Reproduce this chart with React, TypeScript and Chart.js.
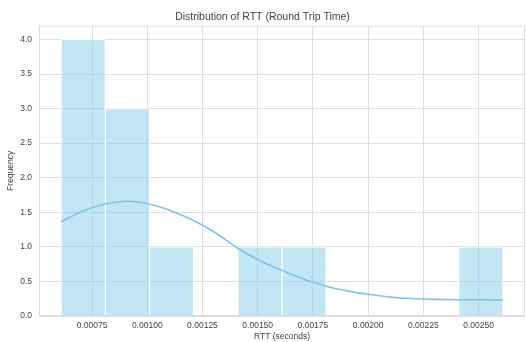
import React, { useEffect, useRef } from "react";
import { Chart, registerables } from "chart.js";

Chart.register(...registerables);

// Histogram bin edges (seconds) and counts per bin
const BIN_EDGES = [
  0.00061, 0.00081, 0.00101, 0.00121, 0.00141, 0.00161, 0.00181, 0.00201,
  0.00221, 0.00241, 0.00261,
];
const COUNTS = [4, 3, 1, 0, 1, 1, 0, 0, 0, 1];

// Kernel density estimate, scaled to counts
const KDE_X = [
  0.00061, 0.00071, 0.00081, 0.00091, 0.00101, 0.00111, 0.00121, 0.00131,
  0.00141, 0.00151, 0.00161, 0.00171, 0.00181, 0.00191, 0.00201, 0.00211,
  0.00221, 0.00231, 0.00241, 0.00251, 0.00261,
];
const KDE_Y = [
  1.36, 1.52, 1.62, 1.66, 1.62, 1.52, 1.38, 1.2, 0.98, 0.8, 0.66, 0.53, 0.43,
  0.36, 0.31, 0.27, 0.25, 0.24, 0.235, 0.235, 0.23,
];

const X_TICKS = [0.00075, 0.001, 0.00125, 0.0015, 0.00175, 0.002, 0.00225, 0.0025];
const Y_TICKS = [0, 0.5, 1, 1.5, 2, 2.5, 3, 3.5, 4];
const X_MIN = 0.00051;
const X_MAX = 0.00271;
const Y_MAX = 4.2;

const FONT = "'Liberation Sans', Arial, sans-serif";
const TEXT = "#444444";
const GRID = "#dedede";

const frame = {
  id: "frame",
  afterDatasetsDraw(chart: any) {
    const { ctx, chartArea: a } = chart;
    ctx.save();
    ctx.strokeStyle = GRID;
    ctx.lineWidth = 1;
    ctx.strokeRect(a.left + 0.5, a.top + 0.5, a.right - a.left - 1, a.bottom - a.top - 1);
    ctx.restore();
  },
};

export default function App() {
  const ref = useRef<HTMLCanvasElement | null>(null);

  useEffect(() => {
    if (!ref.current) return;
    const centers = COUNTS.map((_, i) => (BIN_EDGES[i] + BIN_EDGES[i + 1]) / 2);
    const chart = new Chart(ref.current, {
      type: "bar",
      data: {
        datasets: [
          {
            type: "line",
            data: KDE_X.map((x, i) => ({ x, y: KDE_Y[i] })),
            borderColor: "rgb(128,198,228)",
            borderWidth: 1.6,
            pointRadius: 0,
            tension: 0.4,
            fill: false,
            order: 0,
          } as any,
          {
            type: "bar",
            data: centers.map((x, i) => ({ x, y: COUNTS[i] })),
            backgroundColor: "rgba(135,206,235,0.5)",
            borderColor: "#ffffff",
            borderWidth: 1,
            barPercentage: 1,
            categoryPercentage: 1,
            order: 1,
          } as any,
        ],
      },
      options: {
        animation: false,
        responsive: false,
        layout: { padding: { left: 0, right: 1, top: 0, bottom: 0 } },
        plugins: {
          legend: { display: false },
          tooltip: { enabled: false },
          title: {
            display: true,
            text: "Distribution of RTT (Round Trip Time)",
            color: TEXT,
            font: { family: FONT, size: 10.5, weight: "normal" },
            padding: { top: 11, bottom: 2 },
          },
        },
        scales: {
          x: {
            type: "linear",
            min: X_MIN,
            max: X_MAX,
            offset: false,
            grid: { color: GRID, drawTicks: false, offset: false },
            border: { display: false },
            afterBuildTicks: (s: any) => {
              s.ticks = X_TICKS.map((v) => ({ value: v }));
            },
            afterFit: (s: any) => {
              s.height = 26;
            },
            ticks: {
              color: TEXT,
              font: { family: FONT, size: 8.5 },
              padding: 5,
              maxRotation: 0,
              autoSkip: false,
              callback: (v: any) => Number(v).toFixed(5),
            },
            title: {
              display: true,
              text: "RTT (seconds)",
              color: TEXT,
              font: { family: FONT, size: 8.5 },
              padding: 0,
            },
          },
          y: {
            type: "linear",
            min: 0,
            max: Y_MAX,
            grid: { color: GRID, drawTicks: false },
            border: { display: false },
            afterBuildTicks: (s: any) => {
              s.ticks = Y_TICKS.map((v) => ({ value: v }));
            },
            afterFit: (s: any) => {
              s.width = 39;
            },
            ticks: {
              color: TEXT,
              font: { family: FONT, size: 8.5 },
              padding: 7,
              callback: (v: any) => Number(v).toFixed(1),
            },
            title: {
              display: true,
              text: "Frequency",
              color: TEXT,
              font: { family: FONT, size: 8.5 },
              padding: { top: 6, bottom: 6 },
            },
          },
        },
      },
      plugins: [frame],
    });
    return () => chart.destroy();
  }, []);

  return (
    <div style={{ position: "fixed", left: 0, top: 0, width: 526, height: 342, background: "#fff" }}>
      <canvas ref={ref} width={526} height={342} style={{ width: 526, height: 342, display: "block" }} />
    </div>
  );
}
